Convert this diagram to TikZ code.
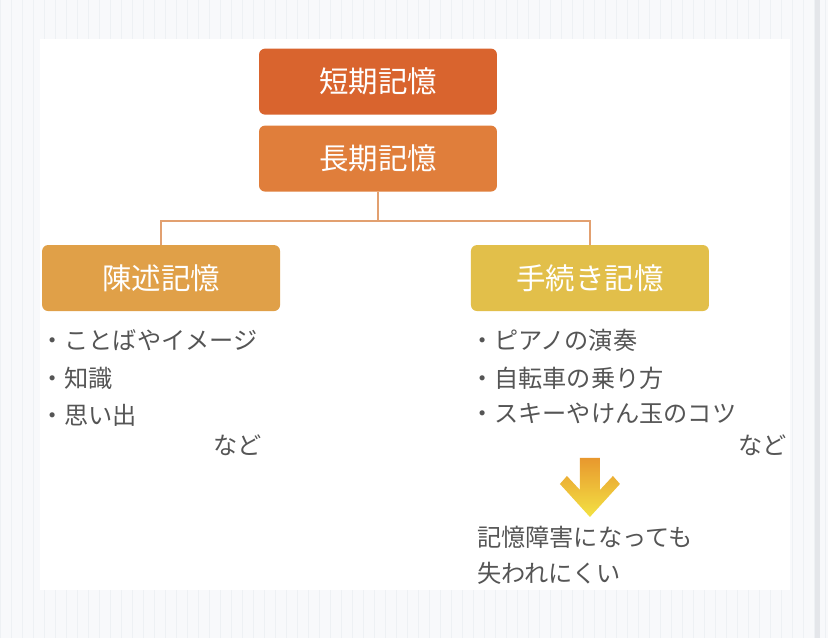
\documentclass[tikz,border=0pt]{standalone}
\usepackage{fontspec}
\newfontfamily\jpfont{Noto Sans CJK JP}

\definecolor{shortc}{HTML}{D9642E}
\definecolor{longc}{HTML}{E07E3B}
\definecolor{declc}{HTML}{E0A048}
\definecolor{procc}{HTML}{E2BF4A}
\definecolor{linkc}{HTML}{E2A070}
\definecolor{textc}{HTML}{555555}
\definecolor{arrowtop}{HTML}{E8982E}
\definecolor{arrowbot}{HTML}{F3E243}
\definecolor{paper}{HTML}{F8F9FB}
\definecolor{gridc}{HTML}{EEF1F4}
\definecolor{barc}{HTML}{E4E6EA}

\tikzset{
  membox/.style={rounded corners=6pt, minimum width=238pt, minimum height=66pt,
    inner sep=0pt, text=white, font={\jpfont\fontsize{29.5pt}{33pt}\selectfont}},
  item/.style={anchor=west, inner sep=0pt, text=textc,
    font={\jpfont\fontsize{24.2pt}{28pt}\selectfont}},
  link/.style={draw=linkc, line width=1.5pt}
}

\begin{document}
\begin{tikzpicture}[x=1pt, y=-1pt]

    % background
    \fill[paper] (0, 0) rectangle (828, 638);
    \draw[gridc, line width=0.3pt] (0, 0) grid[step=11] (828, 638);
    \fill[white] (40, 39) rectangle (790, 590);
    \fill[barc] (815, 0) rectangle (820, 638);

    % boxes
    \node[membox, fill=shortc] (short) at (378, 81.5) {短期記憶};
    \node[membox, fill=longc] (long) at (378, 158.5) {長期記憶};
    \node[membox, fill=declc] (decl) at (161, 278) {陳述記憶};
    \node[membox, fill=procc] (proc) at (590, 278) {手続き記憶};

    \coordinate (fork) at (378, 221);
    \draw[link] (long.south) -- (fork);
    \draw[link] (fork) -| (decl.north);
    \draw[link] (fork) -| (proc.north);

    % declarative
    \node[item] (d1) at (40, 340) {・ことばやイメージ};
    \node[item] (d2) at (40, 378) {・知識};
    \node[item] (d3) at (40, 415) {・思い出};
    \node[item] (d4) at (213, 445) {など};

    % procedural
    \node[item] (p1) at (470, 340) {・ピアノの演奏};
    \node[item] (p2) at (470, 378) {・自転車の乗り方};
    \node[item] (p3) at (470, 413) {・スキーやけん玉のコツ};
    \node[item] (p4) at (738, 445) {など};

    \shade[top color=arrowtop, bottom color=arrowbot]
    (580, 458) -- (600, 458) -- (600, 490) -- (613, 476) -- (620, 484) --
    (590, 517) -- (560, 484) -- (567, 476) -- (580, 490) -- cycle;

    \node[item] (r1) at (477, 537) {記憶障害になっても};
    \node[item] (r2) at (477, 573) {失われにくい};
  \end{tikzpicture}
\end{document}
